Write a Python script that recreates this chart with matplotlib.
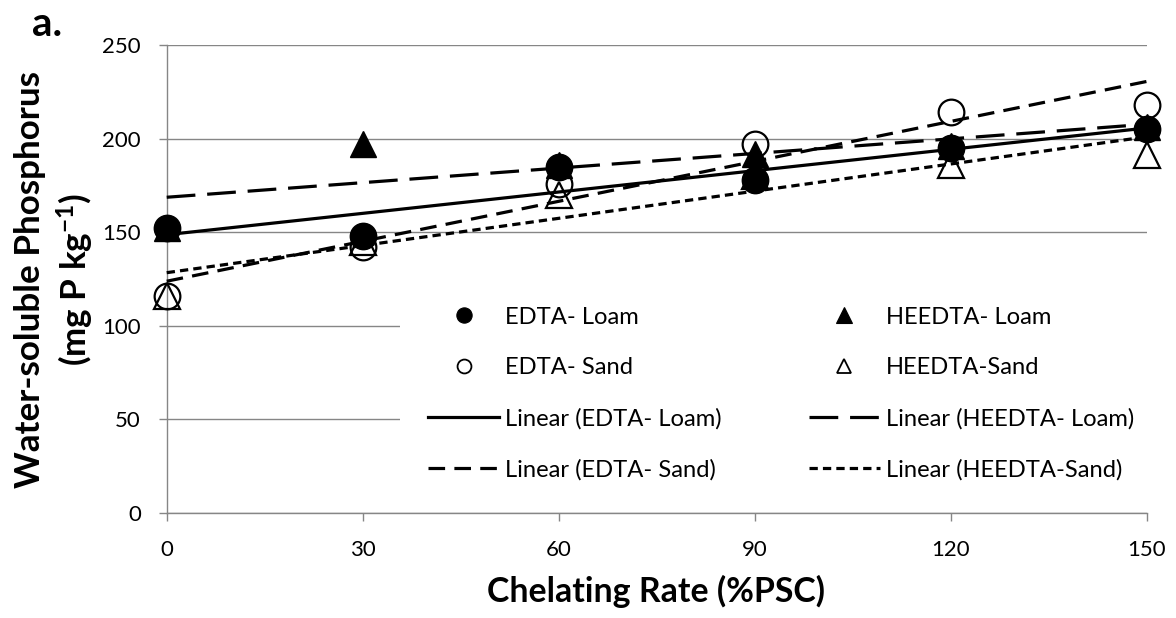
import numpy as np
import matplotlib
matplotlib.use("Agg")
import matplotlib.pyplot as plt
from matplotlib.lines import Line2D

plt.rcParams['font.family'] = ['Lato', 'DejaVu Sans']
plt.rcParams['mathtext.fontset'] = 'custom'
plt.rcParams['mathtext.rm'] = 'Lato'
plt.rcParams['mathtext.bf'] = 'Lato:bold'
plt.rcParams['mathtext.it'] = 'Lato:italic'

# ---- data ----
chelating_rate = [0, 30, 60, 90, 120, 150]
edta_loam = [152, 148, 185, 178, 195, 205]
heedta_loam = [152, 197, 186, 192, 196, 206]
edta_sand = [116, 142, 176, 197, 214, 218]
heedta_sand = [116, 145, 170, 180, 186, 191]
x_ticks = [0, 30, 60, 90, 120, 150]
y_ticks = [0, 50, 100, 150, 200, 250]

labels = ["EDTA- Loam", "HEEDTA- Loam", "EDTA- Sand", "HEEDTA-Sand"]
x_title = "Chelating Rate (%PSC)"
y_title_1 = "Water-soluble Phosphorus"
y_title_2 = "(mg P kg$^{\\mathbf{-1}}$)"

W, H = 1176, 618
fig = plt.figure(figsize=(W / 100, H / 100), dpi=100)
ax = fig.add_axes([166.7 / W, (H - 513) / H, 980 / W, 468 / H])
renderer = fig.canvas.get_renderer()


def fx(px):
    return px / W


def fy(py):
    return 1 - py / H


def fit_size(txt, target, dim='w'):
    bb = txt.get_window_extent(renderer)
    cur = bb.width if dim == 'w' else bb.height
    txt.set_fontsize(txt.get_fontsize() * target / cur)


grey = '#868686'
x = np.array(chelating_rate, dtype=float)

MS = 19
ax.plot(x, heedta_loam, linestyle='none', marker='^', ms=MS, mfc='black', mec='black',
        mew=1.0, zorder=3, clip_on=False)
ax.plot(x, edta_sand, linestyle='none', marker='o', ms=18.5, mfc='none', mec='black',
        mew=1.6, zorder=3, clip_on=False)
ax.plot(x, heedta_sand, linestyle='none', marker='^', ms=18.5, mfc='none', mec='black',
        mew=1.6, zorder=3, clip_on=False)
ax.plot(x, edta_loam, linestyle='none', marker='o', ms=MS, mfc='black', mec='black',
        mew=1.0, zorder=3, clip_on=False)

# linear trendlines
xx = np.array([x.min(), x.max()])
LW = 2.3
styles = {
    'edta_loam': dict(linestyle='-'),
    'heedta_loam': dict(dashes=(9.0, 3.7)),
    'edta_sand': dict(dashes=(5.2, 2.9)),
    'heedta_sand': dict(dashes=(2.6, 1.6)),
}
for name, ys in [('edta_loam', edta_loam), ('heedta_loam', heedta_loam),
                 ('edta_sand', edta_sand), ('heedta_sand', heedta_sand)]:
    m, b = np.polyfit(x, ys, 1)
    ax.plot(xx, m * xx + b, color='black', lw=LW, zorder=4, clip_on=False, **styles[name])

ax.set_xlim(0, 150)
ax.set_ylim(0, 250)
ax.set_xticks(x_ticks)
ax.set_yticks(y_ticks)
ax.set_xticklabels([str(v) for v in x_ticks])
ax.set_yticklabels([str(v) for v in y_ticks])
ax.yaxis.grid(True, color=grey, lw=1.0)
ax.set_axisbelow(True)
for s in ['top', 'right']:
    ax.spines[s].set_visible(False)
for s in ['left', 'bottom']:
    ax.spines[s].set_color(grey)
    ax.spines[s].set_linewidth(1.0)
ax.tick_params(axis='both', direction='out', length=5.8, width=1.0, color=grey,
               labelsize=16, labelcolor='black')
ax.tick_params(axis='x', pad=14)
ax.tick_params(axis='y', pad=12.7)

# axis titles
xt = fig.text(fx(656), fy(602), x_title, fontsize=25, fontweight='bold',
              ha='center', va='baseline')
fit_size(xt, 339, 'w')
yt1 = fig.text(fx(40), fy(279), y_title_1, fontsize=25, fontweight='bold',
               rotation=90, rotation_mode='anchor', ha='center', va='baseline')
fit_size(yt1, 417, 'h')
yt2 = fig.text(fx(87), fy(279), y_title_2, fontsize=yt1.get_fontsize(), fontweight='bold',
               rotation=90, rotation_mode='anchor', ha='center', va='baseline')
fig.text(fx(32), fy(36), "a.", fontsize=29, fontweight='bold', ha='left', va='baseline')

# legend (matplotlib fills columns first)
tmp = fig.text(0, 0, "Linear (" + labels[0] + ")", fontsize=16)
fit_size(tmp, 218, 'w')
fs = tmp.get_fontsize()
row_h = tmp.get_window_extent(renderer).height
tmp.remove()
em = fs * 100 / 72

LMS = 11
h_el = Line2D([], [], linestyle='none', marker='o', ms=LMS, mfc='black', mec='black', mew=0.8)
h_hl = Line2D([], [], linestyle='none', marker='^', ms=LMS, mfc='black', mec='black', mew=0.8)
h_es = Line2D([], [], linestyle='none', marker='o', ms=LMS - 1, mfc='none', mec='black', mew=1.3)
h_hs = Line2D([], [], linestyle='none', marker='^', ms=LMS - 1, mfc='none', mec='black', mew=1.3)
l_el = Line2D([], [], color='black', lw=LW, **styles['edta_loam'])
l_hl = Line2D([], [], color='black', lw=LW, **styles['heedta_loam'])
l_es = Line2D([], [], color='black', lw=LW, **styles['edta_sand'])
l_hs = Line2D([], [], color='black', lw=LW, **styles['heedta_sand'])
handles = [h_el, h_es, l_el, l_es, h_hl, h_hs, l_hl, l_hs]
texts = [labels[0], labels[2], "Linear (" + labels[0] + ")", "Linear (" + labels[2] + ")",
         labels[1], labels[3], "Linear (" + labels[1] + ")", "Linear (" + labels[3] + ")"]

pad_px = 28
leg = ax.legend(handles, texts, ncol=2, loc='center left',
                bbox_to_anchor=(fx(428 - pad_px), fy(393.4)), bbox_transform=fig.transFigure,
                fontsize=fs, frameon=True, fancybox=False, framealpha=1,
                handlelength=71 / em, handletextpad=6 / em, columnspacing=87 / em,
                labelspacing=(51.1 - row_h) / em, borderpad=pad_px / em, borderaxespad=0)
leg.get_frame().set_edgecolor('none')
leg.get_frame().set_facecolor('white')
leg.set_zorder(5)

fig.savefig("out.png", dpi=100)
